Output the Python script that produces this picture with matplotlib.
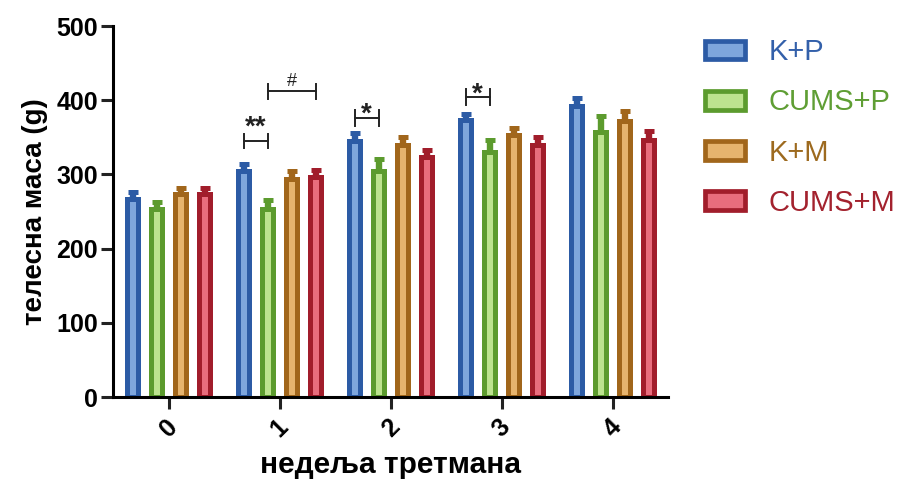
import numpy as np
import matplotlib
matplotlib.use("Agg")
import matplotlib.pyplot as plt
from matplotlib.patches import Rectangle

plt.rcParams['font.family'] = ['Liberation Sans', 'DejaVu Sans']

weeks = ["0", "1", "2", "3", "4"]
groups = ["K+P", "CUMS+P", "K+M", "CUMS+M"]
kp = [267, 305, 345, 373, 392]
cums_p = [253, 253, 305, 330, 357]
km = [273, 294, 340, 353, 372]
cums_m = [273, 296, 323, 340, 346]
kp_err = [9, 9, 11, 9, 11]
cums_p_err = [10, 13, 16, 16, 22]
km_err = [9, 10, 10, 9, 13]
cums_m_err = [9, 10, 10, 10, 13]

values = [kp, cums_p, km, cums_m]
errors = [kp_err, cums_p_err, km_err, cums_m_err]
edge_colors = ["#2c5ba5", "#5c9b2e", "#a1661b", "#a11d2b"]
fill_colors = ["#7ea6dc", "#bde38f", "#e6b46e", "#e86d7d"]
text_colors = ["#3360aa", "#5f9e34", "#9d6a1f", "#a3222e"]

fig = plt.figure(figsize=(8.98, 4.83), dpi=100)
ax = fig.add_axes([0.126, 0.178, 0.618, 0.768])

x = np.arange(len(weeks))
offsets = [-1.5, -0.5, 0.5, 1.5]
step = 0.216
bw = 0.095
handles = []
for i in range(4):
    xs = x + offsets[i] * step
    ax.bar(xs, values[i], width=bw, color=fill_colors[i],
           edgecolor=edge_colors[i], linewidth=3.6, zorder=2, label=groups[i])
    ax.errorbar(xs, values[i], yerr=[np.zeros(5), errors[i]], fmt='none',
                ecolor=edge_colors[i], elinewidth=4.6, capsize=3.6, capthick=3.6, zorder=1)
    handles.append(Rectangle((0, 0), 1, 1, facecolor=fill_colors[i],
                             edgecolor=edge_colors[i], linewidth=3.4))

ax.set_xlim(-0.5, 4.5)
ax.set_ylim(0, 500)
ax.set_yticks([0, 100, 200, 300, 400, 500])
ax.set_xticks(x)
ax.set_xticklabels(weeks, rotation=45, ha='center', va='top', fontweight='bold', fontsize=18)
for lab in ax.get_yticklabels():
    lab.set_fontweight('bold')
    lab.set_fontsize(18)
ax.spines['top'].set_visible(False)
ax.spines['right'].set_visible(False)
ax.spines['left'].set_linewidth(2.2)
ax.spines['bottom'].set_linewidth(2.2)
ax.tick_params(axis='both', width=2.2, length=8.5, color='#222222', pad=2.5)
ax.tick_params(axis='x', pad=4)
ax.set_ylabel("телесна маса (g)", fontsize=20, fontweight='bold', labelpad=6)
ax.set_xlabel("недеља третмана", fontsize=21.5, fontweight='bold', labelpad=7)

# significance annotations
def bracket(x0, x1, y, h, label, ty, fs):
    ax.plot([x0, x1], [y, y], color='#222222', lw=1.4, clip_on=False)
    ax.plot([x0, x0], [y - h, y + h], color='#222222', lw=1.4, clip_on=False)
    ax.plot([x1, x1], [y - h, y + h], color='#222222', lw=1.4, clip_on=False)
    ax.text((x0 + x1) / 2, ty, label, ha='center', va='center', fontsize=fs,
            fontweight='bold' if '*' in label else 'normal', color='#222222')

bracket(1 + offsets[0] * step, 1 + offsets[1] * step, 345, 10, "**", 363, 20)
bracket(1 + offsets[1] * step, 1 + offsets[3] * step, 412, 10, "#", 425, 13)
bracket(2 + offsets[0] * step, 2 + offsets[1] * step, 376, 11, "*", 381, 20)
bracket(3 + offsets[0] * step, 3 + offsets[1] * step, 404, 11, "*", 408, 20)

leg = fig.legend(handles, groups, loc='upper left', bbox_to_anchor=(0.772, 0.945),
                 frameon=False, fontsize=21, handlelength=1.37, handleheight=0.62,
                 handletextpad=0.8, labelspacing=0.76, borderaxespad=0)
for t, c in zip(leg.get_texts(), text_colors):
    t.set_color(c)

fig.savefig("out.png", dpi=100)
